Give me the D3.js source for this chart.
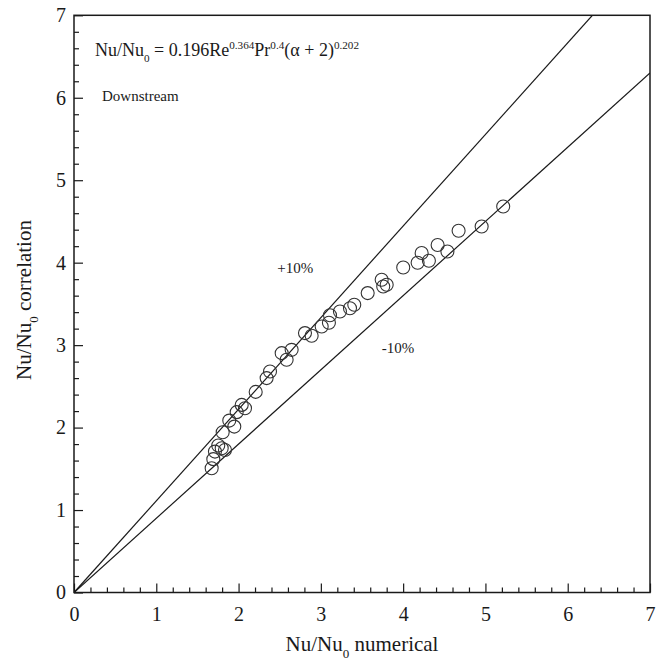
<!DOCTYPE html>
<html>
<head>
<meta charset="utf-8">
<script src="https://cdn.jsdelivr.net/npm/d3@7"></script>
<style>
  html, body { margin: 0; padding: 0; background: #fff; }
  svg { display: block; font-family: "Liberation Serif", "Times New Roman", serif; }
</style>
</head>
<body>
<svg id="chart" width="656" height="665"></svg>
<script>
// ---- data ----
const xNumerical = [1.673, 1.693, 1.713, 1.753, 1.795, 1.835, 1.807, 1.887, 1.948, 1.977,
  2.038, 2.078, 2.208, 2.341, 2.382, 2.524, 2.584, 2.645, 2.807, 2.888,
  3.010, 3.111, 3.098, 3.232, 3.354, 3.406, 3.569, 3.739, 3.758, 3.800,
  4.001, 4.176, 4.225, 4.313, 4.419, 4.538, 4.674, 4.954, 5.216];
const yCorrelation = [1.507, 1.617, 1.709, 1.782, 1.750, 1.729, 1.944, 2.085, 2.012, 2.187,
  2.275, 2.235, 2.433, 2.600, 2.680, 2.903, 2.822, 2.943, 3.146, 3.113,
  3.226, 3.362, 3.271, 3.408, 3.447, 3.490, 3.631, 3.792, 3.711, 3.732,
  3.942, 3.999, 4.117, 4.023, 4.214, 4.136, 4.387, 4.439, 4.682];
const boundFactors = [1 / 0.9, 0.9];   // +10% and -10% lines: correlation = factor * numerical
const boundLabels = ["+10%", "-10%"];
const xTicks = [0, 1, 2, 3, 4, 5, 6, 7];
const yTicks = [0, 1, 2, 3, 4, 5, 6, 7];
const minorTicks = [0.2,0.4,0.6,0.8,1.2,1.4,1.6,1.8,2.2,2.4,2.6,2.8,3.2,3.4,3.6,3.8,
  4.2,4.4,4.6,4.8,5.2,5.4,5.6,5.8,6.2,6.4,6.6,6.8];

// ---- layout ----
const svg = d3.select("#chart");
const x = d3.scaleLinear().domain([0, 7]).range([74, 650]);
const y = d3.scaleLinear().domain([0, 7]).range([592.5, 15.3]);
const ink = "#1a1a1a";

svg.append("clipPath").attr("id", "plotclip")
  .append("rect").attr("x", x(0)).attr("y", y(7))
  .attr("width", x(7) - x(0)).attr("height", y(0) - y(7));

// bound lines
const line = d3.line().x(d => x(d[0])).y(d => y(d[1]));
boundFactors.forEach(f => {
  const xEnd = Math.min(7, 7 / f);
  svg.append("path")
    .attr("d", line([[0, 0], [xEnd, f * xEnd]]))
    .attr("fill", "none").attr("stroke", ink).attr("stroke-width", 1.2)
    .attr("clip-path", "url(#plotclip)");
});

// points
svg.append("g").selectAll("circle")
  .data(xNumerical.map((v, i) => [v, yCorrelation[i]]))
  .join("circle")
  .attr("cx", d => x(d[0])).attr("cy", d => y(d[1]))
  .attr("r", 6.5)
  .attr("fill", "none").attr("stroke", "#333").attr("stroke-width", 1.1);

// axes
const gx = svg.append("g").attr("transform", `translate(0,${y(0)})`)
  .call(d3.axisBottom(x).tickValues(xTicks).tickFormat(d3.format("d")).tickSize(-9).tickPadding(14));
const gxm = svg.append("g").attr("transform", `translate(0,${y(0)})`)
  .call(d3.axisBottom(x).tickValues(minorTicks).tickFormat("").tickSize(-5));
const gy = svg.append("g").attr("transform", `translate(${x(0)},0)`)
  .call(d3.axisLeft(y).tickValues(yTicks).tickFormat(d3.format("d")).tickSize(-9).tickPadding(8));
const gym = svg.append("g").attr("transform", `translate(${x(0)},0)`)
  .call(d3.axisLeft(y).tickValues(minorTicks).tickFormat("").tickSize(-5));
[gx, gxm, gy, gym].forEach(g => {
  g.select(".domain").remove();
  g.selectAll("line").attr("stroke", ink).attr("stroke-width", 1.2);
  g.selectAll("text").attr("fill", ink).style("font-size", "20px")
    .style("font-family", '"Liberation Serif", "Times New Roman", serif');
});

// frame
svg.append("rect").attr("x", x(0)).attr("y", y(7))
  .attr("width", x(7) - x(0)).attr("height", y(0) - y(7))
  .attr("fill", "none").attr("stroke", ink).attr("stroke-width", 1.5);

// rich text helper
function rich(parent, px, py, parts, size, anchor) {
  const t = parent.append("text").attr("x", px).attr("y", py)
    .attr("fill", ink).style("font-size", size + "px")
    .attr("text-anchor", anchor || "start");
  let shift = 0;
  parts.forEach(p => {
    const target = p.sub ? size * 0.32 : p.sup ? -size * 0.4 : 0;
    t.append("tspan").attr("dy", target - shift)
      .style("font-size", (p.sub || p.sup) ? (size * 0.62) + "px" : size + "px")
      .text(p.t);
    shift = target;
  });
  return t;
}

// formula
rich(svg, 95, 56, [
  {t: "Nu/Nu"}, {t: "0", sub: true}, {t: " = 0.196Re"}, {t: "0.364", sup: true},
  {t: "Pr"}, {t: "0.4", sup: true}, {t: "(α + 2)"}, {t: "0.202", sup: true}
], 18);

svg.append("text").attr("x", 102).attr("y", 101).attr("fill", ink)
  .style("font-size", "15px").text("Downstream");

// band labels
svg.append("text").attr("x", x(2.47)).attr("y", y(3.88)).attr("fill", ink)
  .style("font-size", "15px").text(boundLabels[0]);
svg.append("text").attr("x", x(3.74)).attr("y", y(2.90)).attr("fill", ink)
  .style("font-size", "15px").text(boundLabels[1]);

// axis titles
rich(svg, 362, 651, [{t: "Nu/Nu"}, {t: "0", sub: true}, {t: " numerical"}], 21, "middle");
rich(svg.append("g").attr("transform", "translate(31,300) rotate(-90)"), 0, 0,
  [{t: "Nu/Nu"}, {t: "0", sub: true}, {t: " correlation"}], 21, "middle");
</script>
</body>
</html>
